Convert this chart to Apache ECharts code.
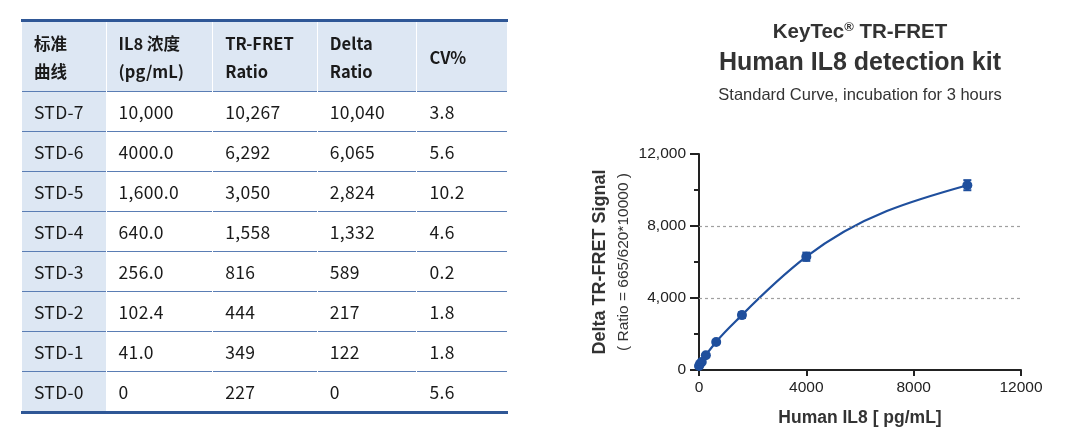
<!DOCTYPE html>
<html>
<head>
<meta charset="utf-8">
<script src="https://cdn.jsdelivr.net/npm/echarts@6/dist/echarts.min.js"></script>
<style>
	html, body { margin: 0; padding: 0; background: #fff; }
	#wrap { position: relative; width: 1080px; height: 442px; overflow: hidden; }
	#chart { position: absolute; left: 0; top: 0; width: 1080px; height: 442px; }
	#std { position: absolute; left: 21px; top: 19px; width: 487px; z-index: 2;
		border-collapse: separate; border-spacing: 1px 0; font-family: "Noto Sans CJK SC", "Noto Sans", sans-serif;
		color: #1a1a1a; border-top: 3px solid #2f5796; border-bottom: 3px solid #2f5796; }
	#std th, #std td { text-align: left; padding: 0 0 0 12px; }
	#std th { background: #dde7f3; height: 69px; font-size: 16.5px; font-weight: bold; line-height: 28px;
		border-bottom: 1px solid #5a7db4; }
	#std td { height: 39px; font-size: 17.5px; letter-spacing: 0.3px; border-bottom: 1px solid #5a7db4; }
	#std tr:last-child td { border-bottom: none; }
	#std td:first-child { background: #dde7f3; }
</style>
</head>
<body>
<div id="wrap">
	<div id="chart"></div>
	<table id="std"></table>
</div>
<script>
// 表格数据
var headers = ['标准<br>曲线', 'IL8 浓度<br>(pg/mL)', 'TR-FRET<br>Ratio', 'Delta<br>Ratio', 'CV%'];
var colWidths = [84, 106, 104, 99, 90];
var stdNames = ['STD-7', 'STD-6', 'STD-5', 'STD-4', 'STD-3', 'STD-2', 'STD-1', 'STD-0'];
var concText = ['10,000', '4000.0', '1,600.0', '640.0', '256.0', '102.4', '41.0', '0'];
var ratioText = ['10,267', '6,292', '3,050', '1,558', '816', '444', '349', '227'];
var deltaText = ['10,040', '6,065', '2,824', '1,332', '589', '217', '122', '0'];
var cvText = ['3.8', '5.6', '10.2', '4.6', '0.2', '1.8', '1.8', '5.6'];

// 曲线数据
var concValues = [10000, 4000, 1600, 640, 256, 102.4, 41, 0];
var ratioValues = [10267, 6292, 3050, 1558, 816, 444, 349, 227];
var errValues = [280, 230, 160, 90, 50, 30, 30, 30];   // 误差棒半高, 读图估计
var guideLines = [4000, 8000];

function buildTable()
{
	var html = '<tr>';
	headers.forEach(function(h, i) {
		html += '<th style="width:' + (colWidths[i] - 12) + 'px">' + h + '</th>';
	});
	html += '</tr>';
	stdNames.forEach(function(n, i) {
		html += '<tr><td>' + n + '</td><td>' + concText[i] + '</td><td>' + ratioText[i] +
			'</td><td>' + deltaText[i] + '</td><td>' + cvText[i] + '</td></tr>';
	});
	document.getElementById('std').innerHTML = html;
}

buildTable();

var points = concValues.map(function(c, i) { return [c, ratioValues[i], errValues[i]]; })
	.sort(function(a, b) { return a[0] - b[0]; });

// 三点法求各点切线, 用于分段三次曲线 (echarts 自带 smooth 在间距不均时会出现 S 弯)
function getTangents(pts)
{
	var n = pts.length, h = [], d = [], m = [];
	for(var i = 0; i < n - 1; i++)
	{
		h[i] = pts[i + 1][0] - pts[i][0];
		d[i] = (pts[i + 1][1] - pts[i][1]) / h[i];
	}
	for(var k = 1; k < n - 1; k++)
		m[k] = (h[k] * d[k - 1] + h[k - 1] * d[k]) / (h[k - 1] + h[k]);
	m[0] = (3 * d[0] - m[1]) / 2;
	m[n - 1] = (3 * d[n - 2] - m[n - 2]) / 2;
	return m;
}

var tangents = getTangents(points);

var blue = '#1f4f9d',
	ink = '#222',
	font = '"Liberation Sans", Arial, sans-serif';

var chart = echarts.init(document.getElementById('chart'), null, {renderer: 'canvas'});

chart.setOption({
	animation: false,
	textStyle: {fontFamily: font},
	graphic: [
		{
			type: 'text', x: 860, y: 32,
			style: {
				text: '{a|KeyTec}{s|®}{a| TR-FRET}',
				textAlign: 'center', textVerticalAlign: 'middle',
				rich: {
					a: {fontSize: 20.5, fontWeight: 'bold', fontFamily: font, fill: '#333'},
					s: {fontSize: 13, fontWeight: 'bold', fontFamily: font, fill: '#333', verticalAlign: 'top', padding: [0, 0, 9, 0]}
				}
			}
		},
		{
			type: 'text', x: 860, y: 63,
			style: {text: 'Human IL8 detection kit', textAlign: 'center', textVerticalAlign: 'middle',
				fontSize: 25, fontWeight: 'bold', fontFamily: font, fill: '#333'}
		},
		{
			type: 'text', x: 860, y: 95,
			style: {text: 'Standard Curve, incubation for 3 hours', textAlign: 'center', textVerticalAlign: 'middle',
				fontSize: 16.5, fontFamily: font, fill: '#333'}
		}
	],
	grid: {left: 699, right: 59, top: 154, bottom: 72},
	xAxis: {
		type: 'value', min: 0, max: 12000, interval: 4000,
		name: 'Human IL8 [ pg/mL]', nameLocation: 'middle', nameGap: 39,
		nameTextStyle: {fontSize: 17.5, fontWeight: 'bold', color: '#333'},
		axisLine: {show: true, onZero: false, lineStyle: {color: ink, width: 2}},
		axisTick: {show: true, length: 6, lineStyle: {color: ink, width: 2}},
		axisLabel: {fontSize: 15.5, color: ink, margin: 10, formatter: function(v) { return String(v); }},
		splitLine: {show: false}
	},
	yAxis: {
		type: 'value', min: 0, max: 12000, interval: 4000,
		name: '{a|Delta TR-FRET Signal}\n{b|( Ratio = 665/620*10000 )}',
		nameLocation: 'middle', nameRotate: 90, nameGap: 64,
		nameTextStyle: {
			rich: {
				a: {fontSize: 18, fontWeight: 'bold', color: '#333', lineHeight: 23, fontFamily: font},
				b: {fontSize: 15.5, color: '#333', lineHeight: 23, fontFamily: font}
			}
		},
		axisLine: {show: true, lineStyle: {color: ink, width: 2}},
		axisTick: {show: true, length: 9, lineStyle: {color: ink, width: 2}},
		minorTick: {show: true, splitNumber: 2, length: 5, lineStyle: {color: ink, width: 2}},
		axisLabel: {
			fontSize: 15.5, color: ink, margin: 13,
			formatter: function(v) { return v.toLocaleString('en-US'); }
		},
		splitLine: {show: false}
	},
	series: [
		{
			// 标准曲线
			type: 'custom',
			data: points,
			z: 2,
			renderItem: function(params, api) {
				var i = params.dataIndex;
				if(i >= points.length - 1)
					return null;
				var p0 = points[i], p1 = points[i + 1],
					h = (p1[0] - p0[0]) / 3,
					a = api.coord([p0[0], p0[1]]),
					c1 = api.coord([p0[0] + h, p0[1] + tangents[i] * h]),
					c2 = api.coord([p1[0] - h, p1[1] - tangents[i + 1] * h]),
					b = api.coord([p1[0], p1[1]]);
				return {
					type: 'bezierCurve',
					shape: {x1: a[0], y1: a[1], x2: b[0], y2: b[1], cpx1: c1[0], cpy1: c1[1], cpx2: c2[0], cpy2: c2[1]},
					style: {stroke: blue, fill: null, lineWidth: 2.2}
				};
			}
		},
		{
			type: 'scatter',
			data: points,
			symbol: 'circle',
			symbolSize: 10,
			itemStyle: {color: blue, opacity: 1},
			z: 3,
			markLine: {
				silent: true,
				symbol: 'none',
				label: {show: false},
				lineStyle: {color: '#a0a0a0', type: [3, 3], width: 1.2},
				data: guideLines.map(function(v) { return {yAxis: v}; })
			}
		},
		{
			// 误差棒
			type: 'custom',
			data: points,
			z: 4,
			renderItem: function(params, api) {
				var x = api.value(0), y = api.value(1), e = api.value(2),
					top = api.coord([x, y + e]),
					bot = api.coord([x, y - e]),
					cap = 4,
					st = {stroke: blue, lineWidth: 2};
				return {
					type: 'group',
					children: [
						{type: 'line', shape: {x1: top[0], y1: top[1], x2: bot[0], y2: bot[1]}, style: st},
						{type: 'line', shape: {x1: top[0] - cap, y1: top[1], x2: top[0] + cap, y2: top[1]}, style: st},
						{type: 'line', shape: {x1: bot[0] - cap, y1: bot[1], x2: bot[0] + cap, y2: bot[1]}, style: st}
					]
				};
			}
		}
	]
});
</script>
</body>
</html>
